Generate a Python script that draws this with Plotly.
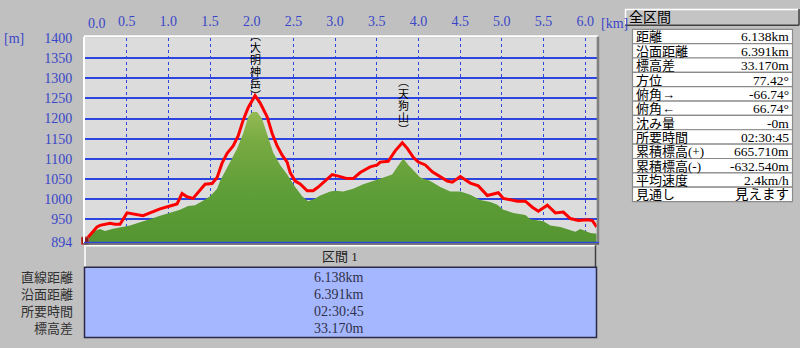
import plotly.graph_objects as go

# ---------------- data ----------------
ground_km = [0.00, 0.096, 0.18, 0.24, 0.324, 0.444, 0.54, 0.66, 0.78, 0.90, 1.02, 1.14, 1.236, 1.32,
             1.405, 1.50, 1.585, 1.62, 1.741, 1.825, 1.897, 1.957, 2.005, 2.065, 2.125, 2.185, 2.257,
             2.341, 2.425, 2.521, 2.605, 2.677, 2.761, 2.821, 2.941, 3.001, 3.097, 3.217, 3.337, 3.457,
             3.577, 3.685, 3.745, 3.818, 3.878, 3.962, 4.022, 4.142, 4.262, 4.382, 4.502, 4.622, 4.742,
             4.862, 4.946, 5.018, 5.138, 5.282, 5.342, 5.498, 5.582, 5.702, 5.822, 5.882, 5.942, 6.062, 6.138]
ground_m = [896, 919, 926, 921, 926, 931, 935, 943, 950, 959, 966, 974, 983, 985,
            995, 1007, 1026, 1045, 1092, 1126, 1163, 1204, 1216, 1216, 1199, 1161, 1116,
            1085, 1061, 1030, 1007, 995, 1002, 1009, 1019, 1021, 1019, 1026, 1037, 1045,
            1054, 1061, 1080, 1101, 1085, 1066, 1054, 1045, 1030, 1019, 1019, 1011, 998,
            993, 986, 974, 966, 961, 950, 945, 935, 931, 924, 919, 926, 916, 914]

route_km = [0.00, 0.144, 0.18, 0.264, 0.30, 0.36, 0.42, 0.504, 0.576, 0.696, 0.78, 0.90, 1.02, 1.104,
            1.164, 1.224, 1.296, 1.38, 1.44, 1.525, 1.585, 1.645, 1.705, 1.777, 1.837, 1.897, 1.957,
            2.04, 2.10, 2.185, 2.245, 2.305, 2.365, 2.425, 2.461, 2.521, 2.581, 2.665, 2.737, 2.797,
            2.881, 2.965, 3.061, 3.145, 3.217, 3.301, 3.421, 3.505, 3.541, 3.637, 3.721, 3.806, 3.866,
            3.938, 3.998, 4.082, 4.166, 4.262, 4.346, 4.406, 4.502, 4.622, 4.718, 4.826, 4.958, 5.018,
            5.186, 5.282, 5.366, 5.438, 5.546, 5.642, 5.738, 5.822, 5.918, 6.026, 6.086, 6.138]
route_m = [897, 931, 935, 938, 940, 938, 938, 966, 964, 959, 966, 976, 983, 988,
           1014, 1006, 1002, 1021, 1037, 1039, 1054, 1090, 1114, 1132, 1157, 1196, 1227,
           1257, 1239, 1204, 1163, 1132, 1109, 1092, 1066, 1045, 1038, 1021, 1021, 1030,
           1045, 1061, 1056, 1051, 1051, 1066, 1080, 1085, 1092, 1094, 1120, 1140, 1126,
           1104, 1092, 1085, 1068, 1056, 1045, 1042, 1056, 1040, 1033, 1009, 1016, 1002,
           995, 995, 980, 970, 985, 966, 968, 952, 947, 949, 947, 931]

x_ticks = [0.5, 1.0, 1.5, 2.0, 2.5, 3.0, 3.5, 4.0, 4.5, 5.0, 5.5, 6.0]
x_tick_text = ["0.5", "1.0", "1.5", "2.0", "2.5", "3.0", "3.5", "4.0", "4.5", "5.0", "5.5", "6.0"]
y_ticks = [894, 950, 1000, 1050, 1100, 1150, 1200, 1250, 1300, 1350, 1400]
y_tick_text = ["894", "950", "1000", "1050", "1100", "1150", "1200", "1250", "1300", "1350", "1400"]

peak_names = ["大明神岳", "天狗山"]
peak_km = [2.04, 3.82]

table_title = "全区間"
table_labels = ["距離", "沿面距離", "標高差", "方位", "俯角→", "俯角←", "沈み量", "所要時間",
                "累積標高(+)", "累積標高(-)", "平均速度", "見通し"]
table_values = ["6.138km", "6.391km", "33.170m", "77.42°", "-66.74°", "66.74°", "-0m", "02:30:45",
                "665.710m", "-632.540m", "2.4km/h", "見えます"]

panel_title = "区間 1"
panel_labels = ["直線距離", "沿面距離", "所要時間", "標高差"]
panel_values = ["6.138km", "6.391km", "02:30:45", "33.170m"]

# ---------------- helpers (pixel -> paper) ----------------
W, H = 800, 348
def px(x):
    return x / W
def py(y):
    return 1 - y / H

BLUE_TXT = "#3a46c8"
GRID = "#2c44e0"
JP = "Noto Sans CJK JP"
MIX = "Liberation Serif, Noto Sans CJK JP"
NUM = "Liberation Serif, Noto Sans CJK JP"

fig = go.Figure()

fig.add_trace(go.Scatter(
    x=ground_km, y=ground_m, mode="lines", line=dict(width=0, color="#5a9a34"),
    fill="tozeroy",
    fillgradient=dict(type="vertical", start=894, stop=1218,
                      colorscale=[[0, "#529430"], [0.45, "#5f9e38"], [0.8, "#78aa42"], [1, "#92b852"]]),
    hoverinfo="skip", showlegend=False))

fig.add_trace(go.Scatter(
    x=route_km, y=route_m, mode="lines", line=dict(width=3, color="#ff0000"),
    hoverinfo="skip", showlegend=False))

# hiker marker at the start of the route
fig.add_trace(go.Scatter(
    x=route_km[:1], y=route_m[:1], mode="markers", cliponaxis=False,
    marker=dict(symbol="square", size=7, color="#8a1c1c", line=dict(color="#c04040", width=1)),
    hoverinfo="skip", showlegend=False))

shapes = []
ann = []

# plot frame
shapes.append(dict(type="line", xref="paper", yref="paper", x0=px(84), x1=px(84), y0=py(31), y1=py(247),
                   line=dict(color="white", width=2), layer="above"))
shapes.append(dict(type="line", xref="paper", yref="paper", x0=px(84), x1=px(598), y0=py(30.5), y1=py(30.5),
                   line=dict(color="white", width=2), layer="above"))
shapes.append(dict(type="line", xref="paper", yref="paper", x0=px(598), x1=px(598), y0=py(31), y1=py(248),
                   line=dict(color="#808080", width=2.5), layer="above"))
shapes.append(dict(type="line", xref="paper", yref="paper", x0=px(84), x1=px(599), y0=py(246), y1=py(246),
                   line=dict(color=GRID, width=1.5), layer="above"))
shapes.append(dict(type="line", xref="paper", yref="paper", x0=px(84), x1=px(599), y0=py(247.8), y1=py(247.8),
                   line=dict(color="#606060", width=1.5), layer="above"))

# bottom panel: header button
shapes.append(dict(type="rect", xref="paper", yref="paper", x0=px(84), x1=px(596), y0=py(272), y1=py(249),
                   fillcolor="#c0c0c0", line=dict(width=0)))
shapes.append(dict(type="line", xref="paper", yref="paper", x0=px(84), x1=px(596), y0=py(249.5), y1=py(249.5),
                   line=dict(color="white", width=1.5)))
shapes.append(dict(type="line", xref="paper", yref="paper", x0=px(85), x1=px(85), y0=py(249), y1=py(272),
                   line=dict(color="white", width=1.5)))
shapes.append(dict(type="line", xref="paper", yref="paper", x0=px(595.5), x1=px(595.5), y0=py(249), y1=py(272),
                   line=dict(color="#404040", width=1.5)))
# bottom panel: blue box
shapes.append(dict(type="rect", xref="paper", yref="paper", x0=px(84.5), x1=px(596.5), y0=py(345.5), y1=py(272),
                   fillcolor="#a5b7ff", line=dict(color="#2a2a44", width=1.5)))

ann.append(dict(xref="paper", yref="paper", x=px(340), y=py(261), text=panel_title, showarrow=False,
                font=dict(family=MIX, size=13, color="#202020"), xanchor="center", yanchor="middle"))
for i, (lab, val) in enumerate(zip(panel_labels, panel_values)):
    yc = 283 + 17.8 * i
    ann.append(dict(xref="paper", yref="paper", x=px(75), y=py(yc), text=lab, showarrow=False,
                    font=dict(family=MIX, size=13, color="#303030"), xanchor="right", yanchor="middle"))
    ann.append(dict(xref="paper", yref="paper", x=px(339), y=py(yc), text=val, showarrow=False,
                    font=dict(family=NUM, size=14, color="#30304a"), xanchor="center", yanchor="middle"))

# right table header button
shapes.append(dict(type="rect", xref="paper", yref="paper", x0=px(625), x1=px(799), y0=py(19), y1=py(2),
                   fillcolor="#c4c4c4", line=dict(width=0)))
shapes.append(dict(type="line", xref="paper", yref="paper", x0=px(625), x1=px(799), y0=py(2.5), y1=py(2.5),
                   line=dict(color="white", width=1.5)))
shapes.append(dict(type="line", xref="paper", yref="paper", x0=px(625.5), x1=px(625.5), y0=py(2), y1=py(19),
                   line=dict(color="white", width=1.5)))
shapes.append(dict(type="line", xref="paper", yref="paper", x0=px(625), x1=px(799), y0=py(19), y1=py(19),
                   line=dict(color="#404040", width=1.5)))
shapes.append(dict(type="line", xref="paper", yref="paper", x0=px(799), x1=px(799), y0=py(2), y1=py(19),
                   line=dict(color="#404040", width=1.5)))
ann.append(dict(xref="paper", yref="paper", x=px(627), y=py(11), text=table_title, showarrow=False,
                font=dict(family=MIX, size=14, color="#000000"), xanchor="left", yanchor="middle"))

# right table
t_top, row_h = 23.3, 15.0
for i, (lab, val) in enumerate(zip(table_labels, table_values)):
    y0 = t_top + row_h * i
    shapes.append(dict(type="rect", xref="paper", yref="paper", x0=px(632.5), x1=px(792.5),
                       y0=py(y0 + row_h), y1=py(y0), fillcolor="white",
                       line=dict(color="#8a8a8a", width=1.2)))
    ann.append(dict(xref="paper", yref="paper", x=px(633.5), y=py(y0 + 8), text=lab, showarrow=False,
                    font=dict(family=MIX, size=13, color="#000000"), xanchor="left", yanchor="middle"))
    ann.append(dict(xref="paper", yref="paper", x=px(791), y=py(y0 + 8), text=val, showarrow=False,
                    font=dict(family=NUM, size=13.5, color="#000000"), xanchor="right", yanchor="middle"))

# axis extra labels
ann.append(dict(xref="x", yref="paper", x=0, xshift=12, y=py(17), text="0.0", showarrow=False,
                font=dict(family=NUM, size=14, color=BLUE_TXT), xanchor="center", yanchor="middle"))
ann.append(dict(xref="paper", yref="paper", x=px(599), y=py(17), text="[km]", showarrow=False,
                font=dict(family=NUM, size=14, color=BLUE_TXT), xanchor="left", yanchor="middle"))
ann.append(dict(xref="paper", yref="paper", x=px(2), y=py(33), text="[m]", showarrow=False,
                font=dict(family=NUM, size=14, color=BLUE_TXT), xanchor="left", yanchor="middle"))

# peak labels (vertical text)
peak_tops = [30, 78.5]
for name, km, top in zip(peak_names, peak_km, peak_tops):
    chars = ["︵"] + list(name) + ["︶"]
    for j, ch in enumerate(chars):
        ann.append(dict(xref="x", yref="paper", x=km, y=py(top + 12.5 * j), text=ch, showarrow=False,
                        font=dict(family=MIX, size=11, color="#000000"), xanchor="center", yanchor="middle",
                        borderpad=0))

fig.update_layout(
    width=W, height=H,
    margin=dict(l=0, r=0, t=0, b=0, pad=0),
    paper_bgcolor="#c0c0c0", plot_bgcolor="#dcdcdc",
    xaxis=dict(domain=[px(85), px(596.7)], range=[0, 6.138], side="top",
               tickvals=x_ticks, ticktext=x_tick_text, showgrid=True, gridcolor=GRID,
               griddash="dot", gridwidth=1, zeroline=False, showline=False,
               ticks="outside", ticklen=5, tickcolor="rgba(0,0,0,0)",
               tickfont=dict(family=NUM, size=14, color=BLUE_TXT), fixedrange=True),
    yaxis=dict(domain=[py(245.5), py(32.3)], range=[894, 1400],
               tickvals=y_ticks, ticktext=y_tick_text, showgrid=True, gridcolor=GRID,
               gridwidth=1.5, zeroline=False, showline=False,
               ticks="outside", ticklen=9, tickcolor="rgba(0,0,0,0)",
               tickfont=dict(family=NUM, size=14, color=BLUE_TXT), fixedrange=True),
    shapes=shapes, annotations=ann, showlegend=False,
)

fig.write_html("out.html")
